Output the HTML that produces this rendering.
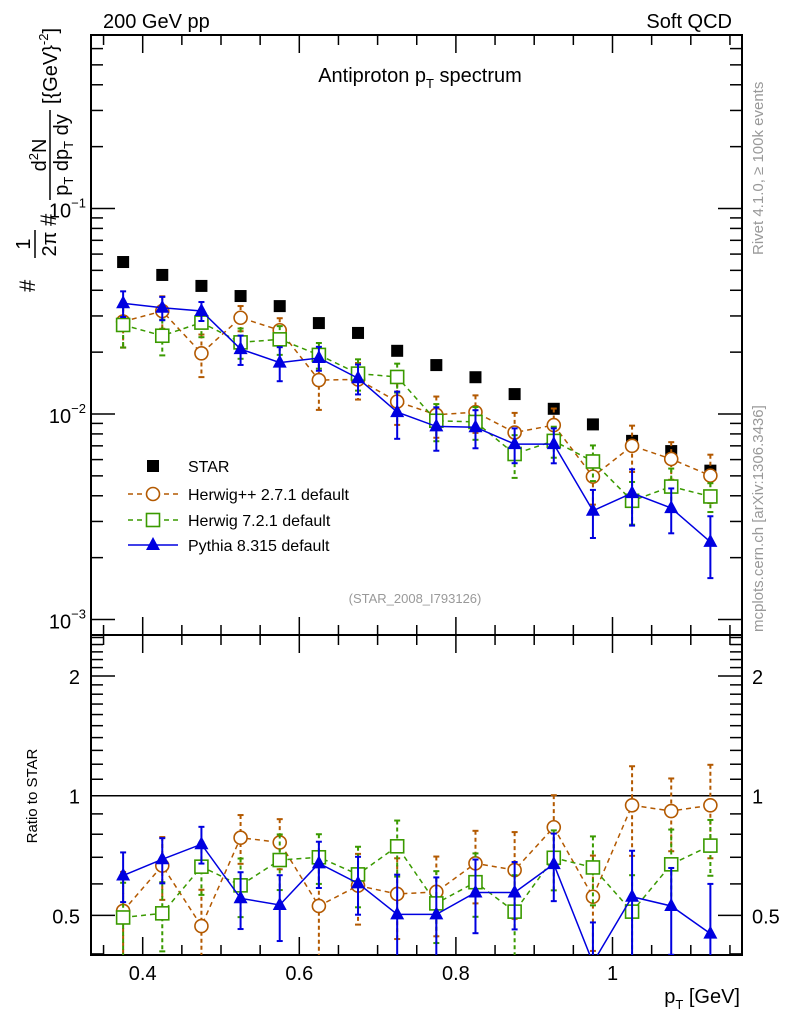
<!DOCTYPE html>
<html><head><meta charset="utf-8"><style>
body{margin:0;background:#fff;}
svg{display:block;font-family:"Liberation Sans",sans-serif;}
</style></head><body>
<svg id="c" width="786" height="1024" viewBox="0 0 786 1024"></svg>
<script>
const pT=[0.375,0.425,0.475,0.525,0.575,0.625,0.675,0.725,0.775,0.825,0.875,0.925,0.975,1.025,1.075,1.125];
const star=[0.0549,0.0475,0.0420,0.0375,0.0335,0.0277,0.0248,0.0203,0.0173,0.0151,0.0125,0.0106,0.0089,0.0074,0.0066,0.0053];
const hwppRatio=[0.513,0.667,0.470,0.784,0.763,0.528,0.594,0.566,0.573,0.676,0.650,0.833,0.557,0.946,0.915,0.946];
const hwppErr=[0.13,0.12,0.11,0.11,0.11,0.15,0.12,0.13,0.13,0.14,0.16,0.17,0.15,0.24,0.19,0.25];
const hw7Ratio=[0.494,0.506,0.663,0.595,0.689,0.700,0.634,0.746,0.536,0.606,0.511,0.698,0.660,0.511,0.672,0.749];
const hw7Err=[0.11,0.10,0.10,0.10,0.11,0.10,0.11,0.12,0.11,0.11,0.12,0.12,0.13,0.12,0.15,0.12];
const pyRatio=[0.630,0.692,0.755,0.552,0.531,0.676,0.602,0.503,0.503,0.571,0.571,0.673,0.38,0.557,0.528,0.450];
const pyErr=[0.09,0.09,0.08,0.09,0.10,0.09,0.10,0.13,0.12,0.12,0.11,0.13,0.10,0.17,0.13,0.15];

const svg=document.getElementById('c');
const NS='http://www.w3.org/2000/svg';
const L=91,R=742,T=35,M=635,B=955;
const X=p=>142.7+(p-0.4)*783;
const Y=v=>414-205.5*Math.log10(v/0.01);
const YR=r=>795.7-397.6*Math.log10(r);
function el(tag,attrs,parent,txt){const e=document.createElementNS(NS,tag);for(const k in attrs)e.setAttribute(k,attrs[k]);if(txt!==undefined)e.textContent=txt;(parent||svg).appendChild(e);return e;}
function line(x1,y1,x2,y2,st,w,g,dash){return el('line',{x1,y1,x2,y2,stroke:st,'stroke-width':w,'stroke-dasharray':dash||'none'},g);}

const fr=el('g',{});


el('rect',{x:L,y:T,width:R-L,height:M-T,fill:'none',stroke:'#000','stroke-width':2},fr);
el('rect',{x:L,y:M,width:R-L,height:B-M,fill:'none',stroke:'#000','stroke-width':2},fr);
for(let i=7;i<=23;i++){const p=i*0.05;const x=X(p);if(x<L||x>R)continue;const maj=(i%4===0);const h=maj?18:10;
 [T,M].forEach(y0=>line(x,y0,x,y0+h,'#000',1.5,fr));
 [M,B].forEach(y0=>line(x,y0,x,y0-h,'#000',1.5,fr));}
for(let d=-3;d<=0;d++)for(let m=1;m<=9;m++){const v=m*Math.pow(10,d);const y=Y(v);if(y<T||y>M)continue;const h=m===1?24:12;line(L,y,L+h,y,'#000',1.5,fr);line(R,y,R-h,y,'#000',1.5,fr);}
for(let k=4;k<=25;k++){const r=k/10;const y=YR(r);if(y<M||y>B)continue;const maj=(k===5||k===10||k===20);const h=maj?24:12;line(L,y,L+h,y,'#000',1.5,fr);line(R,y,R-h,y,'#000',1.5,fr);}
line(L,YR(1),R,YR(1),'#000',1.5,fr);

function txt(x,y,s,size,attrs,name,parent){const t=el('text',Object.assign({x,y,'font-size':size},attrs||{}),parent,s);return t;}
txt(103,28,'200 GeV pp',20,{},'energy-label');
txt(732,28,'Soft QCD',20,{'text-anchor':'end'},'process-label');
const title=txt(420,82,'Antiproton p',20,{'text-anchor':'middle'},'chart-title');
el('tspan',{'font-size':13,dy:6},title,'T');el('tspan',{dy:-6},title,' spectrum');
txt(415,603,'(STAR_2008_I793126)',13,{'text-anchor':'middle',fill:'#999'},'analysis-id');
txt(0,0,'Rivet 4.1.0, \u2265 100k events',15,{fill:'#999',transform:'translate(763,255) rotate(-90)'},'rivet-label');
txt(0,0,'mcplots.cern.ch [arXiv:1306.3436]',15,{fill:'#999',transform:'translate(763,632) rotate(-90)'},'mcplots-label');
[[0.1,'10'],[0.01,'10'],[0.001,'10']].forEach(([v,s],i)=>{const t=txt(86,Y(v)+9,s,20,{'text-anchor':'end'},'y-tick-label');const e=['\u22121','\u22122','\u22123'][i];el('tspan',{'font-size':13,dy:-10},t,e);});
[[2,'2'],[1,'1'],[0.5,'0.5']].forEach(([r,s])=>{txt(80,YR(r)+8,s,20,{'text-anchor':'end'},'ratio-tick-label-left');txt(752,YR(r)+8,s,20,{},'ratio-tick-label-right');});
[0.4,0.6,0.8,1].forEach(p=>txt(X(p),980,p===1?'1':String(p),20,{'text-anchor':'middle'},'x-tick-label'));
const xl=txt(740,1003,'',20,{'text-anchor':'end'},'x-axis-title');
el('tspan',{},xl,'p');el('tspan',{'font-size':13,dy:6},xl,'T');el('tspan',{dy:-6},xl,' [GeV]');
txt(0,0,'Ratio to STAR',15,{'text-anchor':'middle',transform:'translate(37,796) rotate(-90)'},'ratio-axis-title');

// y-axis title as rotated fraction
const yg=el('g',{transform:'translate(65,292) rotate(-90)'});


el('text',{x:0,y:-30,'font-size':22},yg,'#');
el('text',{x:48,y:-35,'font-size':20,'text-anchor':'middle'},yg,'1');
line(34,-30,62,-30,'#000',1.5,yg);
el('text',{x:48,y:-9,'font-size':20,'text-anchor':'middle'},yg,'2\u03c0');
el('text',{x:66,y:-9,'font-size':22},yg,'#');
const nm=el('text',{x:137,y:-19,'font-size':20,'text-anchor':'middle'},yg,'d');
el('tspan',{'font-size':13,dy:-8},nm,'2');el('tspan',{dy:8},nm,'N');
line(92,-15,182,-15,'#000',1.5,yg);
const dn=el('text',{x:137,y:3,'font-size':20,'text-anchor':'middle'},yg,'p');
el('tspan',{'font-size':13,dy:5},dn,'T');el('tspan',{dy:-5},dn,' dp');el('tspan',{'font-size':13,dy:5},dn,'T');el('tspan',{dy:-5},dn,' dy');
const un=el('text',{x:188,y:-8,'font-size':20},yg,'[{GeV}');
el('tspan',{'font-size':13,dy:-9},un,'-2');el('tspan',{dy:9},un,']');

const defs=el('defs',{});
const c1=el('clipPath',{id:'ct'},defs);el('rect',{x:L,y:T,width:R-L,height:M-T},c1);
const c2=el('clipPath',{id:'cr'},defs);el('rect',{x:L,y:M,width:R-L,height:B-M},c2);

const series=[
 {name:'herwigpp',ratio:hwppRatio,err:hwppErr,color:'#b35900',dash:'5,4',marker:'circle'},
 {name:'herwig7',ratio:hw7Ratio,err:hw7Err,color:'#3a9a00',dash:'5,4',marker:'square'},
 {name:'pythia8',ratio:pyRatio,err:pyErr,color:'#0000e0',dash:'none',marker:'triangle'}];
function marker(g,type,x,y,col){
 if(type==='circle')return el('circle',{cx:x,cy:y,r:6.5,fill:'#fff',stroke:col,'stroke-width':1.6},g);
 if(type==='square')return el('rect',{x:x-6.5,y:y-6.5,width:13,height:13,fill:'#fff',stroke:col,'stroke-width':1.6},g);
 if(type==='triangle')return el('polygon',{points:`${x},${y-8} ${x-7},${y+5} ${x+7},${y+5}`,fill:col},g);
 return el('rect',{x:x-6,y:y-6,width:12,height:12,fill:'#000'},g);
}
const gs=el('g',{'clip-path':'url(#ct)'});


star.forEach((v,i)=>{const m=marker(gs,'star',X(pT[i]),Y(v),'#000');});

series.forEach(s=>{
 [['top','ct'],['ratio','cr']].forEach(([panel,clip])=>{
  const g=el('g',{'clip-path':`url(#${clip})`});
  
  
  const yf=panel==='top'?(i,r)=>Y(star[i]*r):(i,r)=>YR(r);
  const pts=pT.map((p,i)=>`${X(p)},${yf(i,s.ratio[i])}`).join(' ');
  el('polyline',{points:pts,fill:'none',stroke:s.color,'stroke-width':1.5,'stroke-dasharray':s.dash},g);
  pT.forEach((p,i)=>{const x=X(p);const y1=yf(i,s.ratio[i]+s.err[i]),y2=yf(i,Math.max(0.05,s.ratio[i]-s.err[i]));
   line(x,y1,x,y2,s.color,2,g,s.dash==='none'?'none':'4,3');line(x-3,y1,x+3,y1,s.color,2,g);line(x-3,y2,x+3,y2,s.color,2,g);
   const m=marker(g,s.marker,x,yf(i,s.ratio[i]),s.color);});
 });
});

const lg=el('g',{});


const leg=[['STAR','star','#000','none',466],['Herwig++ 2.7.1 default','circle','#b35900','5,4',494],['Herwig 7.2.1 default','square','#3a9a00','5,4',520],['Pythia 8.315 default','triangle','#0000e0','none',545]];
leg.forEach(([t,m,c,d,y])=>{const g=el('g',{},lg);
 if(m!=='star')line(128,y,178,y,c,1.5,g,d);marker(g,m,153,y,c);el('text',{x:188,y:y+6,'font-size':16},g,t);});
</script>
</body></html>
